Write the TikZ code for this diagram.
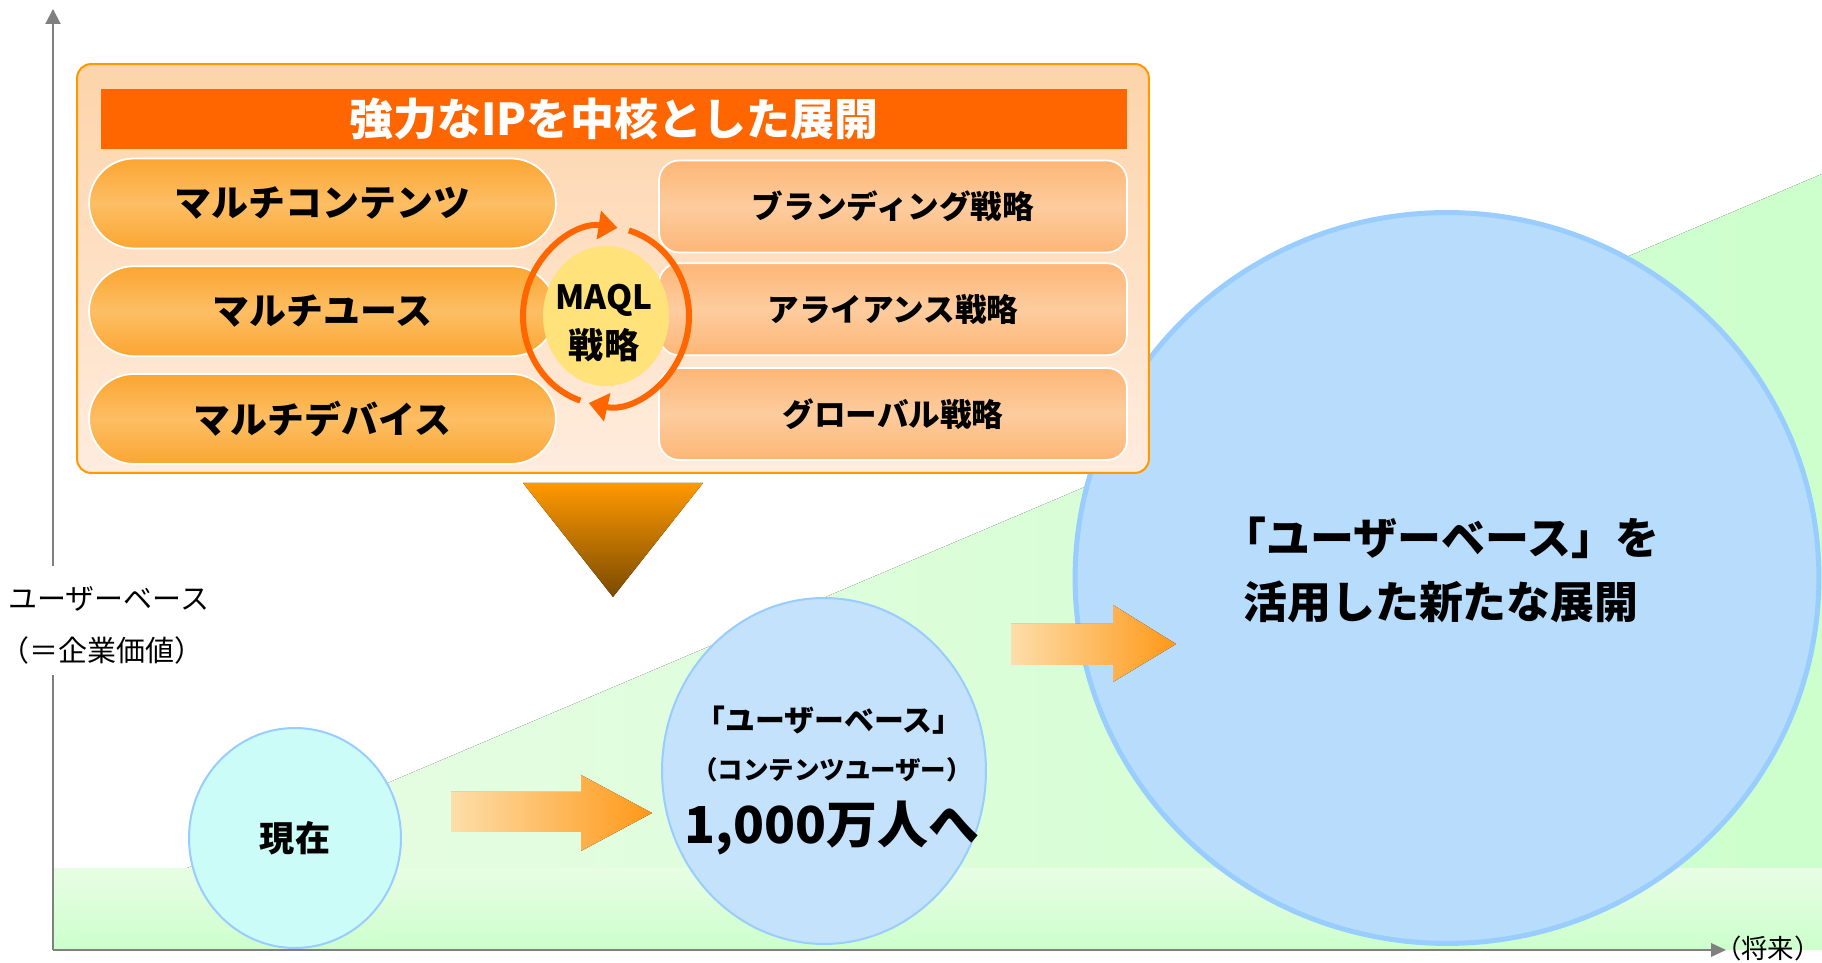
\documentclass[tikz,border=0pt]{standalone}
\usepackage{fontspec}
\setmainfont{Noto Sans CJK JP}[BoldFont={* Black}]
\usepackage{tikz}
\usetikzlibrary{shapes.geometric,arrows.meta,positioning}
\definecolor{axisgray}{RGB}{128,128,128}
\definecolor{ipred}{RGB}{255,102,0}
\definecolor{pillorange}{RGB}{251,166,50}
\definecolor{pilllight}{RGB}{253,190,100}
\definecolor{boxpeach}{RGB}{253,182,118}
\definecolor{boxlight}{RGB}{253,204,158}
\definecolor{panelborder}{RGB}{255,153,0}
\definecolor{paneltop}{RGB}{253,212,170}
\definecolor{panelbottom}{RGB}{255,236,222}
\definecolor{skyedge}{RGB}{153,204,255}
\definecolor{nowfill}{RGB}{204,252,248}
\definecolor{midfill}{RGB}{196,226,252}
\definecolor{bigfill}{RGB}{184,220,252}
\definecolor{grassfill}{RGB}{204,255,204}
\definecolor{grasslight}{RGB}{232,253,228}
\definecolor{arrowpeach}{RGB}{253,222,170}
\definecolor{arroworange}{RGB}{255,152,24}
\definecolor{funneltop}{RGB}{255,153,0}
\definecolor{funnelbottom}{RGB}{122,74,0}
\definecolor{maqlyellow}{RGB}{255,226,122}

\begin{document}
\begin{tikzpicture}[
		x=0.02cm, y=0.02cm,
		axis/.style={draw=axisgray, line width=0.04cm},
		axislabel/.style={inner sep=0, font=\fontsize{16.5pt}{20pt}\selectfont},
		panel/.style={draw=panelborder, line width=0.04cm, rounded corners=0.28cm, top color=paneltop, bottom color=panelbottom, minimum width=21.44cm, minimum height=8.18cm},
		titlebar/.style={fill=ipred, text=white, minimum width=20.52cm, minimum height=1.2cm, font=\fontsize{25pt}{30pt}\selectfont\bfseries},
		pill/.style={draw=white, line width=1pt, rounded corners=0.9cm, top color=pillorange, bottom color=pillorange, middle color=pilllight, minimum width=9.34cm, minimum height=1.8cm, font=\fontsize{21pt}{24pt}\selectfont\bfseries},
		stratbox/.style={draw=white, line width=1pt, rounded corners=0.4cm, top color=boxpeach, bottom color=boxpeach, middle color=boxlight, minimum width=9.36cm, minimum height=1.84cm, font=\fontsize{18pt}{22pt}\selectfont\bfseries},
		blob/.style={ellipse, draw=skyedge, line width=0.04cm, inner sep=0},
		ring/.style={draw=ipred, line width=0.12cm, -{Triangle[length=0.38cm, width=0.56cm]}},
		boldtext/.style={inner sep=0, align=center, font=\bfseries}
	]

	\useasboundingbox (0,0) rectangle (1822,963);
	\fill[white] (0,0) rectangle (1822,963);

	% growth background
	\fill[left color=grasslight, right color=grassfill] (185,94) -- (1822,789) -- (1822,94) -- cycle;
	\fill[top color=grasslight, bottom color=grassfill] (53,13) rectangle (1822,94);

	% axes
	\coordinate (origin) at (53,13);
	\coordinate (ygaplow) at (53,288);
	\coordinate (ygaphigh) at (53,397);
	\coordinate (ytip) at (53,954);
	\coordinate (xtip) at (1726,13);
	\draw[axis] (origin) -- (ygaplow);
	\draw[axis, -{Triangle[length=0.3cm, width=0.3cm]}] (ygaphigh) -- (ytip);
	\draw[axis, -{Triangle[length=0.3cm, width=0.27cm]}] (origin) -- (xtip);
	\node[axislabel, anchor=west] (ylabel) at (8,364) {ユーザーベース};
	\node[axislabel, anchor=west] (ynote) at (0,313) {（＝企業価値）};
	\node[axislabel, anchor=east, font=\fontsize{15pt}{18pt}\selectfont] (xlabel) at (1821,15) {（将来）};

	% user base circles
	\node[blob, fill=nowfill, minimum width=4.24cm, minimum height=4.4cm, font=\fontsize{20pt}{24pt}\selectfont\bfseries] (now) at (295,125) {現在};
	\node[blob, fill=midfill, minimum width=6.48cm, minimum height=6.92cm] (mid) at (824,192) {};
	\node[blob, fill=bigfill, line width=0.1cm, minimum width=14.88cm, minimum height=14.62cm] (big) at (1447,385) {};

	\node[boldtext, font=\fontsize{17pt}{20pt}\selectfont\bfseries] (midtitle) at (829,243) {「ユーザーベース」};
	\node[boldtext, font=\fontsize{14.5pt}{18pt}\selectfont\bfseries] (midnote) at (832,193) {（コンテンツユーザー）};
	\node[boldtext, font=\fontsize{29pt}{34pt}\selectfont\bfseries] (midgoal) at (832,135) {1,000万人へ};
	\node[boldtext, font=\fontsize{25pt}{36pt}\selectfont\bfseries] (bigtext) at (1441,393) {「ユーザーベース」を\\活用した新たな展開};

	% block arrows
	\fill[left color=arrowpeach, right color=arroworange] (451,171) -- (581,171) -- (581,188) -- (652,150) -- (581,112) -- (581,131) -- (451,131) -- cycle;
	\fill[left color=arrowpeach, right color=arroworange] (1011,339) -- (1113,339) -- (1113,358) -- (1176,319) -- (1113,281) -- (1113,298) -- (1011,298) -- cycle;
	\fill[top color=funneltop, bottom color=funnelbottom] (523,480) -- (703,480) -- (613,366) -- cycle;

	% IP panel
	\node[panel] (panel) at (613,694.5) {};
	\node[titlebar] (title) at (614,844) {強力なIPを中核とした展開};

	\node[pill] (contents) at (322.5,759.5) {マルチコンテンツ};
	\node[pill, below=0.32cm of contents] (multiuse) {マルチユース};
	\node[pill, below=0.32cm of multiuse] (devices) {マルチデバイス};

	\node[stratbox] (branding) at (893,756.5) {ブランディング戦略};
	\node[stratbox, below=0.18cm of branding] (alliance) {アライアンス戦略};
	\node[stratbox, below=0.22cm of alliance] (global) {グローバル戦略};

	% MAQL cycle
	\node[ellipse, fill=maqlyellow, inner sep=0, minimum width=2.52cm, minimum height=2.8cm] (maql) at (606,647) {};
	\draw[ring] (maql.center) ++(74:1.66cm and 1.78cm) arc[start angle=74, end angle=-102, x radius=1.66cm, y radius=1.78cm];
	\draw[ring] (maql.center) ++(252:1.66cm and 1.78cm) arc[start angle=252, end angle=82, x radius=1.66cm, y radius=1.78cm];
	\node[boldtext, font=\fontsize{19pt}{22pt}\selectfont\bfseries] (maqlname) at (604,663) {MAQL};
	\node[boldtext, font=\fontsize{20pt}{22pt}\selectfont\bfseries] (maqlword) at (604,618) {戦略};

\end{tikzpicture}
\end{document}
